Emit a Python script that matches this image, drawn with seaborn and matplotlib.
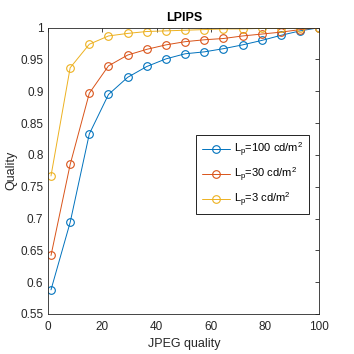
import matplotlib
matplotlib.use("Agg")
import matplotlib.pyplot as plt
import seaborn as sns
import pandas as pd

jpeg_quality = [1, 8.07, 15.14, 22.21, 29.29, 36.36, 43.43, 50.5, 57.57, 64.64, 71.71, 78.79, 85.86, 92.93, 100]
q_100 = [0.588, 0.694, 0.833, 0.895, 0.922, 0.939, 0.951, 0.959, 0.962, 0.967, 0.973, 0.980, 0.988, 0.995, 1.0]
q_30 = [0.642, 0.785, 0.897, 0.940, 0.957, 0.966, 0.973, 0.978, 0.981, 0.983, 0.987, 0.990, 0.993, 0.997, 1.0]
q_3 = [0.767, 0.937, 0.974, 0.987, 0.991, 0.994, 0.995, 0.996, 0.997, 0.998, 0.998, 0.999, 0.999, 0.9995, 1.0]
labels = [r"L$_\mathrm{p}$=100 cd/m$^\mathrm{2}$",
          r"L$_\mathrm{p}$=30 cd/m$^\mathrm{2}$",
          r"L$_\mathrm{p}$=3 cd/m$^\mathrm{2}$"]
colors = ["#0072BD", "#D95319", "#EDB120"]

sns.set_style("white")
plt.rcParams["font.family"] = ["Liberation Sans", "DejaVu Sans"]
plt.rcParams["mathtext.fontset"] = "custom"
plt.rcParams["mathtext.rm"] = "Liberation Sans"
plt.rcParams["mathtext.it"] = "Liberation Sans"

fig = plt.figure(figsize=(3.54, 3.54), dpi=100)
ax = fig.add_axes([0.1364, 0.113, 0.7656, 0.8088])

for vals, lab, col in zip([q_100, q_30, q_3], labels, colors):
    df = pd.DataFrame({"x": jpeg_quality, "y": vals})
    sns.lineplot(data=df, x="x", y="y", ax=ax, color=col, label=lab,
                 marker="o", markersize=5.5, markerfacecolor="none",
                 markeredgecolor=col, markeredgewidth=0.8, linewidth=0.7)

ax.set_xlim(0, 100)
ax.set_ylim(0.55, 1.0)
ax.set_xticks([0, 20, 40, 60, 80, 100])
ax.set_yticks([0.55, 0.6, 0.65, 0.7, 0.75, 0.8, 0.85, 0.9, 0.95, 1.0])
ax.set_yticklabels(["0.55", "0.6", "0.65", "0.7", "0.75", "0.8", "0.85", "0.9", "0.95", "1"])
tc = "#262626"
ax.tick_params(direction="in", length=3, width=0.6, colors=tc, labelsize=8.5,
               top=True, right=True, labelcolor=tc)
ax.tick_params(axis="x", pad=5)
for s in ax.spines.values():
    s.set_visible(True)
    s.set_color(tc)
    s.set_linewidth(0.6)
ax.set_xlabel("JPEG quality", fontsize=9, color=tc, labelpad=4)
ax.set_ylabel("Quality", fontsize=9, color=tc, labelpad=2)
ax.set_title("LPIPS", fontsize=9, fontweight="bold", color="black", pad=5)

leg = ax.legend(loc="upper left", bbox_to_anchor=(0.545, 0.625), fontsize=8,
                frameon=True, fancybox=False, framealpha=1, edgecolor="black",
                handlelength=2.6, borderpad=0.5, labelspacing=0.6,
                handletextpad=0.3, borderaxespad=0)
leg.get_frame().set_linewidth(0.6)
for t in leg.get_texts():
    t.set_color("black")

fig.savefig("out.png", dpi=100)
